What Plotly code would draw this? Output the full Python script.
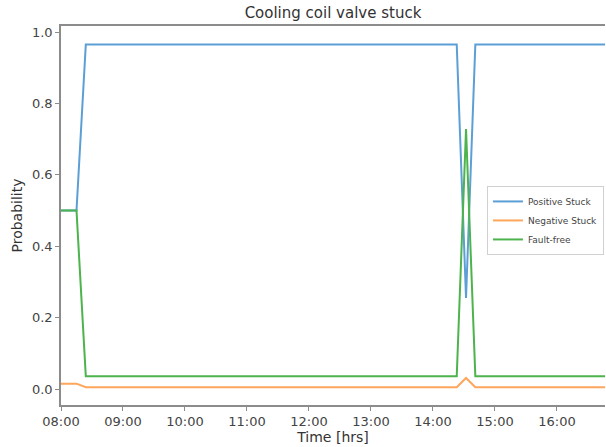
import plotly.graph_objects as go

times = ["2020-01-01 08:00", "2020-01-01 08:15", "2020-01-01 08:24",
         "2020-01-01 14:23", "2020-01-01 14:32", "2020-01-01 14:41",
         "2020-01-01 16:50"]
positive_stuck = [0.50, 0.50, 0.965, 0.965, 0.255, 0.965, 0.965]
negative_stuck = [0.015, 0.015, 0.005, 0.005, 0.031, 0.005, 0.005]
fault_free = [0.50, 0.50, 0.036, 0.036, 0.728, 0.036, 0.036]

tick_vals = ["2020-01-01 %02d:00" % h for h in range(8, 17)]
tick_text = ["%02d:00" % h for h in range(8, 17)]

fig = go.Figure()
fig.add_trace(go.Scatter(x=times, y=positive_stuck, mode="lines", name="Positive Stuck",
                         line=dict(color="#5c9fd6", width=2)))
fig.add_trace(go.Scatter(x=times, y=negative_stuck, mode="lines", name="Negative Stuck",
                         line=dict(color="#ffa55c", width=2)))
fig.add_trace(go.Scatter(x=times, y=fault_free, mode="lines", name="Fault-free",
                         line=dict(color="#4db34d", width=2)))

font_family = "DejaVu Sans"
fig.update_layout(
    autosize=False,
    width=606, height=447,
    margin=dict(l=61, r=1, t=26, b=42, autoexpand=False),
    paper_bgcolor="white", plot_bgcolor="white",
    font=dict(family=font_family, color="#333333"),
    title=dict(text="Cooling coil valve stuck", x=0.5, xanchor="center", xref="paper",
               y=1 - 13 / 447, yanchor="middle", font=dict(size=15, color="#333333")),
    showlegend=True,
    legend=dict(x=0.783, y=0.578, xanchor="left", yanchor="top",
                font=dict(size=9, color="#444444"), bgcolor="white",
                bordercolor="#d0d0d0", borderwidth=1, itemwidth=30,
                tracegroupgap=0),
)
fig.update_xaxes(
    type="date",
    range=["2020-01-01 08:00", "2020-01-01 16:46:30"],
    tickvals=tick_vals, ticktext=tick_text,
    showgrid=False, zeroline=False,
    showline=True, linecolor="#8c8c8c", linewidth=1.5, mirror=True,
    ticks="outside", ticklen=4, tickcolor="#8c8c8c",
    tickfont=dict(size=13, color="#444444"),
    title=dict(text="Time [hrs]", font=dict(size=14, color="#333333"), standoff=4),
)
fig.update_yaxes(
    range=[-0.0448, 1.0168],
    tickvals=[0.0, 0.2, 0.4, 0.6, 0.8, 1.0],
    tickformat=".1f",
    showgrid=False, zeroline=False,
    showline=True, linecolor="#8c8c8c", linewidth=1.5,
    ticks="outside", ticklen=4, tickcolor="#8c8c8c",
    tickfont=dict(size=13, color="#444444"),
    title=dict(text="Probability", font=dict(size=14, color="#333333"), standoff=6),
)

fig.write_html(
    "out.html",
    config={"displayModeBar": False},
    post_script="document.body.style.margin='0';document.body.style.overflow='hidden';",
)
